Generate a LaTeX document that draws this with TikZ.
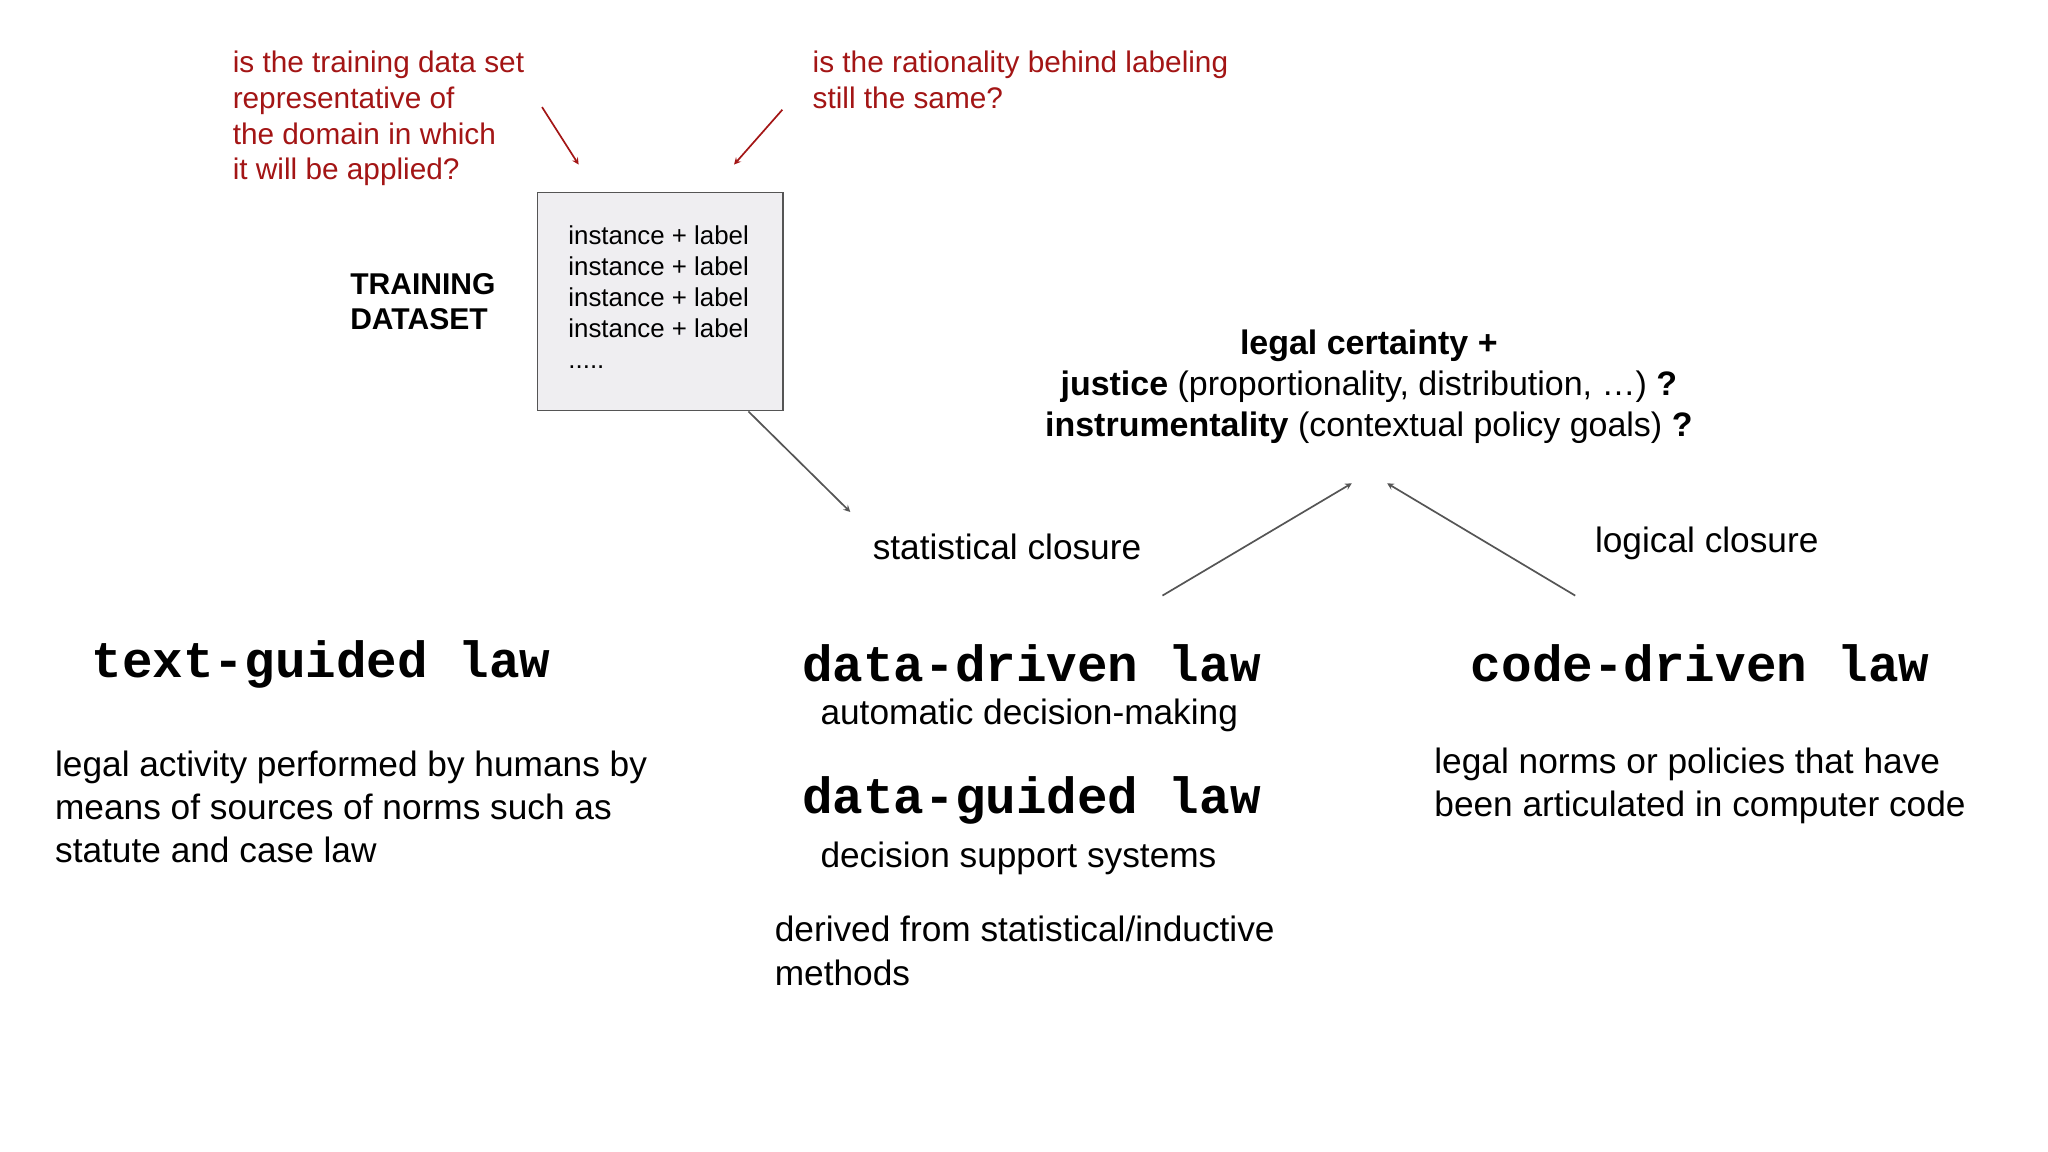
\documentclass[tikz,border=0pt]{standalone}
\usepackage{fontspec}
\setmainfont{Liberation Sans}
\setmonofont{Liberation Mono}
\definecolor{dred}{HTML}{A31515}
\definecolor{boxg}{HTML}{EFEEF1}
\definecolor{arr}{HTML}{555555}
\begin{document}
\begin{tikzpicture}[x=1pt,y=-1pt,
  red/.style={text=dred,font=\fontsize{22.8}{27.3}\selectfont,align=left,anchor=north west,inner sep=0},
  body/.style={font=\fontsize{27}{33}\selectfont,align=left,anchor=west,inner sep=0},
  mono/.style={font=\fontsize{39}{40}\ttfamily\bfseries,anchor=west,inner sep=0},
  redarr/.style={dred,line width=1.3pt,-stealth},
  grarr/.style={arr,line width=1.3pt,-stealth}]
\useasboundingbox (0,0) rectangle (1568,882);
\node[red] (q1) at (178,39) {is the training data set\\representative of\\the domain in which\\it will be applied?};
\node[red] (q2) at (622,39) {is the rationality behind labeling\\still the same?};
\coordinate (a1s) at (415,82); \coordinate (a1e) at (443,126);
\coordinate (a2s) at (599,84); \coordinate (a2e) at (562,126);
\draw[redarr] (a1s) -- (a1e);
\draw[redarr] (a2s) -- (a2e);
\node[draw=arr,fill=boxg,line width=1pt,minimum width=188pt,minimum height=167pt,anchor=north west] (box) at (411,147) {};
\node[anchor=north west,inner sep=0,align=left,font=\fontsize{19.8}{23.6}\selectfont] (inst) at (435,173) {instance + label\\instance + label\\instance + label\\instance + label\\.....};
\node[anchor=west,inner sep=0,align=left,font=\fontsize{23}{27}\bfseries] (td) at (268,231) {TRAINING\\DATASET};
\node[body] (stat) at (668,419) {statistical closure};
\coordinate (b1s) at (573,315); \coordinate (b1e) at (651,392);
\draw[grarr] (b1s) -- (b1e);
\node[inner sep=0,align=center,font=\fontsize{26}{31.5}\selectfont] (lc) at (1048,296) {\textbf{legal certainty +}\\\textbf{justice} (proportionality, distribution, \dots) \textbf{?}\\\textbf{instrumentality} (contextual policy goals) \textbf{?}};
\coordinate (c1s) at (890,456); \coordinate (c1e) at (1035,370);
\coordinate (c2s) at (1206,456); \coordinate (c2e) at (1062,370);
\draw[grarr] (c1s) -- (c1e);
\draw[grarr] (c2s) -- (c2e);
\node[body] (logc) at (1221,416) {logical closure};
\node[mono] (tg) at (70,509) {text-guided law};
\node[mono] (dd) at (614,508) {data-driven law};
\node[mono] (dg) at (614,613) {data-guided law};
\node[mono] (cd) at (1126,508) {code-driven law};
\node[body] (adm) at (628,548) {automatic decision-making};
\node[body] (dss) at (628,657) {decision support systems};
\node[body] (der) at (593,728) {derived from statistical/inductive\\methods};
\node[body] (la) at (42,618) {legal activity performed by humans by\\means of sources of norms such as\\statute and case law};
\node[body] (ln) at (1098,602) {legal norms or policies that have\\been articulated in computer code};
\end{tikzpicture}
\end{document}
